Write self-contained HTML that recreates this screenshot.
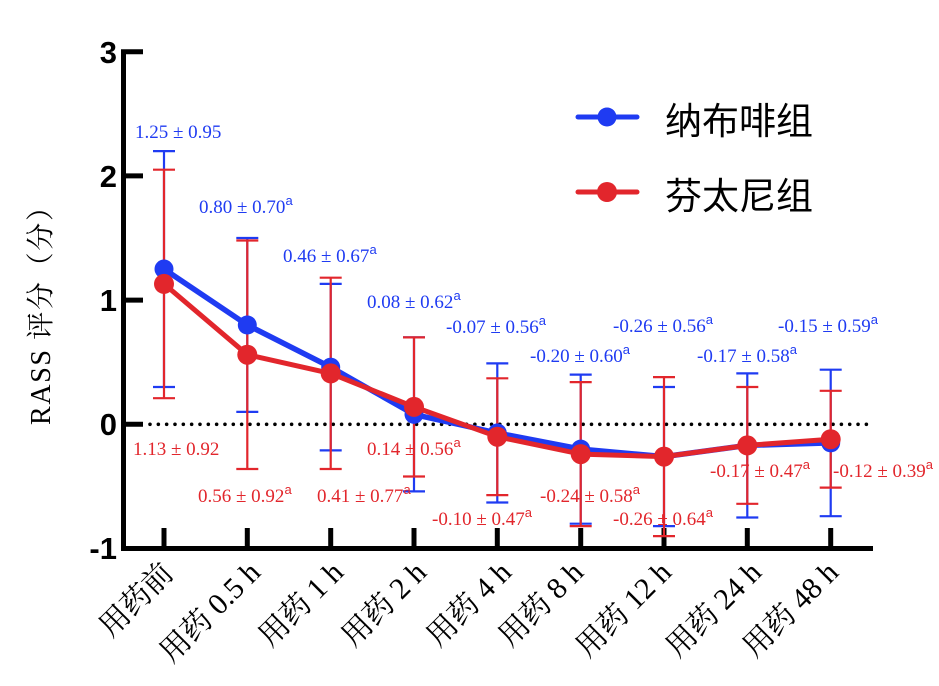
<!DOCTYPE html>
<html><head><meta charset="utf-8"><style>
html,body{margin:0;padding:0;background:#fff;}
svg{display:block;}
.tk{font-family:"Liberation Sans",Arial,sans-serif;font-weight:bold;font-size:31px;fill:#000;}
.lb{font-family:"Liberation Serif","Noto Serif CJK SC",serif;font-size:19px;}
.b{fill:#1f3bf2;}
.r{fill:#e2262c;}
.sup{font-family:"Liberation Sans",Arial,sans-serif;font-size:13px;}
</style></head><body>
<svg width="939" height="686" viewBox="0 0 939 686" xmlns="http://www.w3.org/2000/svg">
<rect width="939" height="686" fill="#fff"/>
<line x1="150" y1="424.3" x2="870" y2="424.3" stroke="#000" stroke-width="3.6" stroke-linecap="round" stroke-dasharray="0 8.33"/>
<g stroke="#000" stroke-width="5" fill="none">
<line x1="123.5" y1="49.5" x2="123.5" y2="551"/>
<line x1="121" y1="548.5" x2="873" y2="548.5"/>
<line x1="121" y1="51.7" x2="143" y2="51.7"/>
<line x1="121" y1="175.9" x2="143" y2="175.9"/>
<line x1="121" y1="300.1" x2="143" y2="300.1"/>
<line x1="121" y1="424.3" x2="143" y2="424.3"/>
<line x1="164" y1="528" x2="164" y2="548"/>
<line x1="247.3" y1="528" x2="247.3" y2="548"/>
<line x1="330.7" y1="528" x2="330.7" y2="548"/>
<line x1="414" y1="528" x2="414" y2="548"/>
<line x1="497.3" y1="528" x2="497.3" y2="548"/>
<line x1="580.7" y1="528" x2="580.7" y2="548"/>
<line x1="664" y1="528" x2="664" y2="548"/>
<line x1="747.3" y1="528" x2="747.3" y2="548"/>
<line x1="830.7" y1="528" x2="830.7" y2="548"/>
</g>
<text class="tk" x="117" y="63" text-anchor="end">3</text>
<text class="tk" x="117" y="187" text-anchor="end">2</text>
<text class="tk" x="117" y="311" text-anchor="end">1</text>
<text class="tk" x="117" y="435" text-anchor="end">0</text>
<text class="tk" x="117" y="559" text-anchor="end">-1</text>
<text transform="translate(50,425) rotate(-90)" x="0" y="0" textLength="232" lengthAdjust="spacing" font-family="Liberation Serif, Noto Serif CJK SC, serif" font-size="28" fill="#000">RASS 评分（分）</text>

<g stroke="#1f3bf2" stroke-width="2.2" fill="none">
<path d="M164 151.1V387M153 151.1H175M153 387H175"/>
<path d="M247.3 238V411.9M236.3 238H258.3M236.3 411.9H258.3"/>
<path d="M330.7 283.9V450.4M319.7 283.9H341.7M319.7 450.4H341.7"/>
<path d="M414 337.4V491.4M403 337.4H425M403 491.4H425"/>
<path d="M497.3 363.4V502.5M486.3 363.4H508.3M486.3 502.5H508.3"/>
<path d="M580.7 374.6V523.7M569.7 374.6H591.7M569.7 523.7H591.7"/>
<path d="M664 387V526.1M653 387H675M653 526.1H675"/>
<path d="M747.3 373.4V517.5M736.3 373.4H758.3M736.3 517.5H758.3"/>
<path d="M830.7 369.7V516.2M819.7 369.7H841.7M819.7 516.2H841.7"/>
</g>
<g stroke="#e2262c" stroke-width="2.2" fill="none">
<path d="M164 169.7V398.2M153 169.7H175M153 398.2H175"/>
<path d="M247.3 240.5V469M236.3 240.5H258.3M236.3 469H258.3"/>
<path d="M330.7 277.7V469M319.7 277.7H341.7M319.7 469H341.7"/>
<path d="M414 337.4V476.5M403 337.4H425M403 476.5H425"/>
<path d="M497.3 378.3V495.1M486.3 378.3H508.3M486.3 495.1H508.3"/>
<path d="M580.7 382.1V526.1M569.7 382.1H591.7M569.7 526.1H591.7"/>
<path d="M664 377.1V536.1M653 377.1H675M653 536.1H675"/>
<path d="M747.3 387V503.8M736.3 387H758.3M736.3 503.8H758.3"/>
<path d="M830.7 390.8V487.6M819.7 390.8H841.7M819.7 487.6H841.7"/>
</g>
<polyline fill="none" stroke="#1f3bf2" stroke-width="5.5" stroke-linejoin="round" points="164,269.05 247.3,325 330.7,367.2 414,414.4 497.3,433 580.7,449.1 664,456.6 747.3,445.4 830.7,442.9"/>
<g fill="#1f3bf2">
<circle cx="164" cy="269.05" r="9.5"/><circle cx="247.3" cy="325" r="9.5"/><circle cx="330.7" cy="367.2" r="9.5"/>
<circle cx="414" cy="414.4" r="9.5"/><circle cx="497.3" cy="433" r="9.5"/><circle cx="580.7" cy="449.1" r="9.5"/>
<circle cx="664" cy="456.6" r="9.5"/><circle cx="747.3" cy="445.4" r="9.5"/><circle cx="830.7" cy="442.9" r="9.5"/>
</g>
<polyline fill="none" stroke="#e2262c" stroke-width="5" stroke-linejoin="round" points="164,283.9 247.3,354.7 330.7,373.4 414,406.9 497.3,436.7 580.7,454.1 664,456.6 747.3,445.4 830.7,439.2"/>
<g fill="#e2262c">
<circle cx="164" cy="283.9" r="10"/><circle cx="247.3" cy="354.7" r="10"/><circle cx="330.7" cy="373.4" r="10"/>
<circle cx="414" cy="406.9" r="10"/><circle cx="497.3" cy="436.7" r="10"/><circle cx="580.7" cy="454.1" r="10"/>
<circle cx="664" cy="456.6" r="10"/><circle cx="747.3" cy="445.4" r="10"/><circle cx="830.7" cy="439.2" r="10"/>
</g>

<g class="lb b">
<text x="135" y="138">1.25 ± 0.95</text>
<text x="199" y="213">0.80 ± 0.70<tspan class="sup" dy="-8">a</tspan></text>
<text x="283" y="262">0.46 ± 0.67<tspan class="sup" dy="-8">a</tspan></text>
<text x="367" y="308">0.08 ± 0.62<tspan class="sup" dy="-8">a</tspan></text>
<text x="446" y="333">-0.07 ± 0.56<tspan class="sup" dy="-8">a</tspan></text>
<text x="530" y="362">-0.20 ± 0.60<tspan class="sup" dy="-8">a</tspan></text>
<text x="613" y="332">-0.26 ± 0.56<tspan class="sup" dy="-8">a</tspan></text>
<text x="697" y="362">-0.17 ± 0.58<tspan class="sup" dy="-8">a</tspan></text>
<text x="778" y="332">-0.15 ± 0.59<tspan class="sup" dy="-8">a</tspan></text>
</g>
<g class="lb r">
<text x="133" y="455">1.13 ± 0.92</text>
<text x="198" y="502">0.56 ± 0.92<tspan class="sup" dy="-8">a</tspan></text>
<text x="317" y="502">0.41 ± 0.77<tspan class="sup" dy="-8">a</tspan></text>
<text x="367" y="455">0.14 ± 0.56<tspan class="sup" dy="-8">a</tspan></text>
<text x="432" y="525">-0.10 ± 0.47<tspan class="sup" dy="-8">a</tspan></text>
<text x="540" y="502">-0.24 ± 0.58<tspan class="sup" dy="-8">a</tspan></text>
<text x="613" y="525">-0.26 ± 0.64<tspan class="sup" dy="-8">a</tspan></text>
<text x="710" y="477">-0.17 ± 0.47<tspan class="sup" dy="-8">a</tspan></text>
<text x="833" y="477">-0.12 ± 0.39<tspan class="sup" dy="-8">a</tspan></text>
</g>

<g font-family="Liberation Serif, Noto Serif CJK SC, serif" font-size="30" fill="#000" text-anchor="end">
<text transform="translate(175,575) rotate(-45)">用药前</text>
<text transform="translate(262,574) rotate(-45)">用药 0.5 h</text>
<text transform="translate(345,574) rotate(-45)">用药 1 h</text>
<text transform="translate(428,574) rotate(-45)">用药 2 h</text>
<text transform="translate(513,574) rotate(-45)">用药 4 h</text>
<text transform="translate(585,574) rotate(-45)">用药 8 h</text>
<text transform="translate(673,574) rotate(-45)">用药 12 h</text>
<text transform="translate(763,574) rotate(-45)">用药 24 h</text>
<text transform="translate(840,574) rotate(-45)">用药 48 h</text>
</g>

<line x1="578" y1="117" x2="637" y2="117" stroke="#1f3bf2" stroke-width="5" stroke-linecap="round"/>
<circle cx="607" cy="117" r="9.5" fill="#1f3bf2"/>
<text x="665" y="134" font-family="Noto Sans CJK SC, sans-serif" font-size="37" fill="#000">纳布啡组</text>
<line x1="578" y1="192" x2="637" y2="192" stroke="#e2262c" stroke-width="5" stroke-linecap="round"/>
<circle cx="607" cy="192" r="10" fill="#e2262c"/>
<text x="665" y="209" font-family="Noto Sans CJK SC, sans-serif" font-size="37" fill="#000">芬太尼组</text>
</svg>
</body></html>
